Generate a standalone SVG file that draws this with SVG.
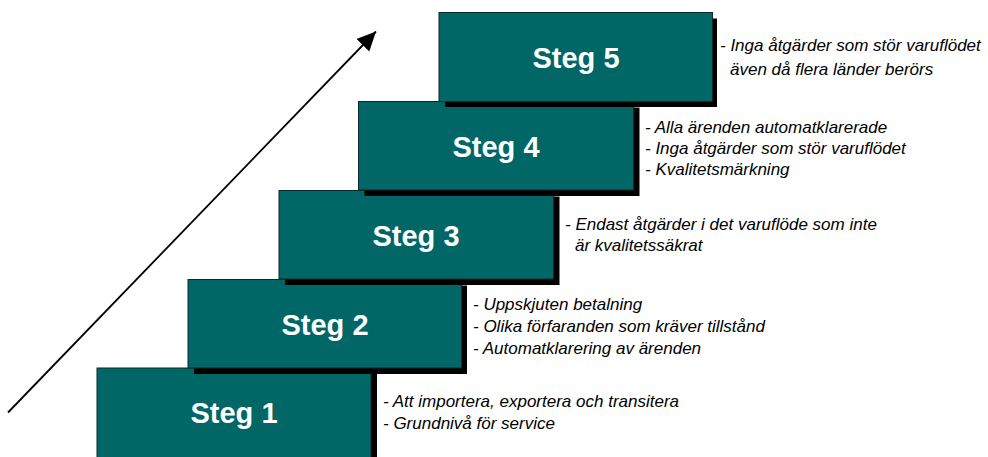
<svg xmlns="http://www.w3.org/2000/svg" width="988" height="457" viewBox="0 0 988 457">
  <defs>
    <marker id="arrowHead" markerUnits="userSpaceOnUse" markerWidth="20" markerHeight="20" refX="19" refY="9" orient="auto">
      <path d="M0,0 L19,9 L0,18 Z" fill="#000"/>
    </marker>
  </defs>
  <style>
    .shadow { fill: #000; }
    .step { fill: #006666; stroke: #0a2a2a; stroke-width: 1; }
    .label { font-family: "Liberation Sans", Arial, sans-serif; font-weight: bold; font-size: 29px; fill: #fff; text-anchor: middle; }
    .note { font-family: "Liberation Sans", Arial, sans-serif; font-style: italic; font-size: 17px; fill: #000; }
  </style>
  <rect width="988" height="457" fill="#fff"/>

  <!-- rising arrow -->
  <g id="connectors">
    <line x1="8" y1="412.5" x2="376" y2="31.5" stroke="#000" stroke-width="1.8" marker-end="url(#arrowHead)"/>
  </g>

  <!-- steps, drawn bottom to top so each shadow falls over the step below -->
  <g id="steg1">
    <rect class="shadow" x="103" y="374" width="274" height="90"/>
    <rect class="step" x="97" y="368" width="274" height="90"/>
    <text class="label" x="234" y="423">Steg 1</text>
    <text class="note" x="383" y="407">- Att importera, exportera och transitera</text>
    <text class="note" x="383" y="429">- Grundnivå för service</text>
  </g>

  <g id="steg2">
    <rect class="shadow" x="194" y="285.5" width="273" height="88.5"/>
    <rect class="step" x="188" y="279.5" width="273.5" height="88.5"/>
    <text class="label" x="325" y="335">Steg 2</text>
    <text class="note" x="473" y="310">- Uppskjuten betalning</text>
    <text class="note" x="473" y="332">- Olika förfaranden som kräver tillstånd</text>
    <text class="note" x="473" y="354">- Automatklarering av ärenden</text>
  </g>

  <g id="steg3">
    <rect class="shadow" x="285" y="196.5" width="274.5" height="88.5"/>
    <rect class="step" x="279" y="190.5" width="274.5" height="88.5"/>
    <text class="label" x="416" y="246">Steg 3</text>
    <text class="note" x="565" y="230">- Endast åtgärder i det varuflöde som inte</text>
    <text class="note" x="575" y="251">är kvalitetssäkrat</text>
  </g>

  <g id="steg4">
    <rect class="shadow" x="364.5" y="107.5" width="275" height="88.5"/>
    <rect class="step" x="358.5" y="101.5" width="275" height="88.5"/>
    <text class="label" x="496" y="157">Steg 4</text>
    <text class="note" x="645" y="133">- Alla ärenden automatklarerade</text>
    <text class="note" x="645" y="154">- Inga åtgärder som stör varuflödet</text>
    <text class="note" x="645" y="175">- Kvalitetsmärkning</text>
  </g>

  <g id="steg5">
    <rect class="shadow" x="445" y="18.5" width="272" height="88.5"/>
    <rect class="step" x="439" y="12.5" width="273.5" height="89"/>
    <text class="label" x="576" y="68">Steg 5</text>
    <text class="note" x="720" y="51">- Inga åtgärder som stör varuflödet</text>
    <text class="note" x="730" y="75">även då flera länder berörs</text>
  </g>
</svg>
